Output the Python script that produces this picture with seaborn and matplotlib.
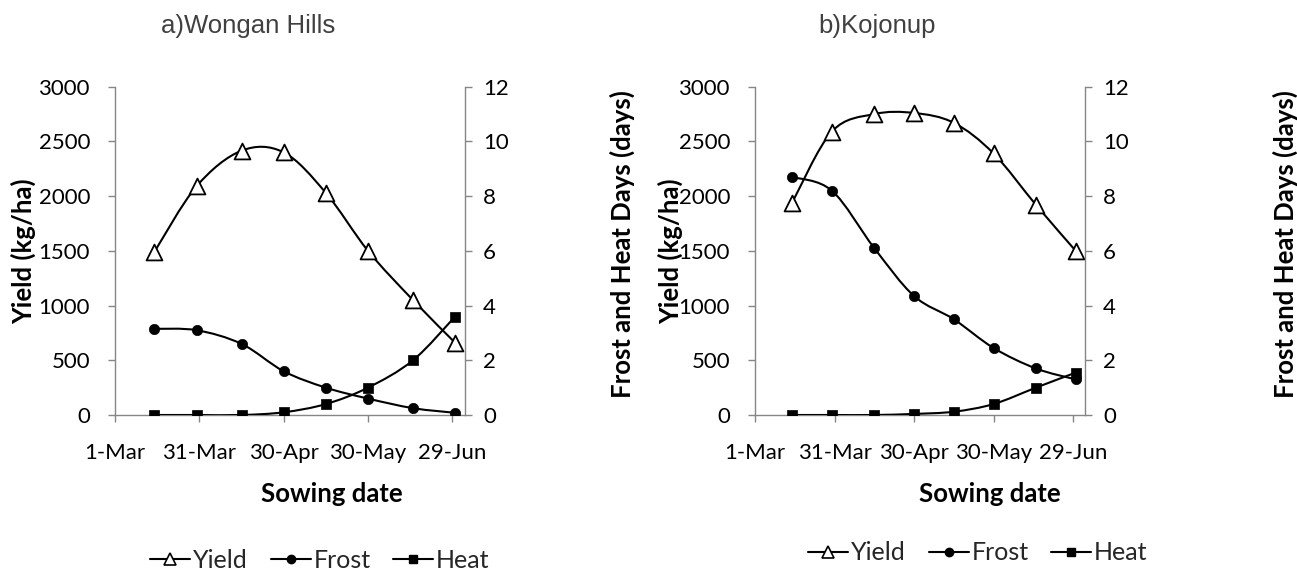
import numpy as np
import pandas as pd
import matplotlib
matplotlib.use("Agg")
import matplotlib.pyplot as plt
import matplotlib.dates as mdates
from matplotlib.path import Path
from matplotlib.patches import PathPatch
from matplotlib.lines import Line2D
import seaborn as sns

# ---------------- data ----------------
sowing_dates = ["2013-03-15", "2013-03-30", "2013-04-15", "2013-04-30",
                "2013-05-15", "2013-05-30", "2013-06-15", "2013-06-30"]
wongan_yield = [1490, 2090, 2415, 2400, 2030, 1500, 1050, 660]
wongan_frost = [3.15, 3.1, 2.6, 1.6, 1.0, 0.6, 0.25, 0.08]
wongan_heat = [0, 0, 0, 0.1, 0.4, 1.0, 2.0, 3.6]
kojonup_yield = [1940, 2590, 2750, 2760, 2670, 2390, 1920, 1500]
kojonup_frost = [8.7, 8.2, 6.1, 4.35, 3.5, 2.45, 1.7, 1.3]
kojonup_heat = [0, 0, 0, 0.04, 0.12, 0.4, 1.0, 1.55]
tick_dates = ["2013-03-01", "2013-03-31", "2013-04-30", "2013-05-30", "2013-06-29"]
tick_labels = ["1-Mar", "31-Mar", "30-Apr", "30-May", "29-Jun"]
yield_ticks = [0, 500, 1000, 1500, 2000, 2500, 3000]
days_ticks = [0, 2, 4, 6, 8, 10, 12]
titles = ["a)Wongan Hills", "b)Kojonup"]
series_names = ["Yield", "Frost", "Heat"]

sns.set_theme(style="white")
plt.rcParams["font.family"] = ["Lato", "DejaVu Sans"]

W, H = 1297, 577
fig = plt.figure(figsize=(W / 100, H / 100), dpi=100)
GRAY = "#868686"
TICK_FS = 16
LAB_FS = 18.5
LEG_FS = 18
TITLE_FS = 18.5


def smooth_path(xs, ys):
    pts = np.column_stack([xs, ys]).astype(float)
    n = len(pts)
    verts = [pts[0]]
    codes = [Path.MOVETO]
    for i in range(n - 1):
        p0 = pts[i - 1] if i > 0 else pts[i]
        p1 = pts[i]
        p2 = pts[i + 1]
        p3 = pts[i + 2] if i + 2 < n else pts[i + 1]
        c1 = p1 + (p2 - p0) / 6.0
        c2 = p2 - (p3 - p1) / 6.0
        verts += [c1, c2, p2]
        codes += [Path.CURVE4] * 3
    return Path(verts, codes)


def panel(rect, yld, frost, heat, title, title_x, ylab_x, rlab_x, xlab_x, leg_x, leg_y):
    ax = fig.add_axes(rect)
    ax2 = ax.twinx()
    dates = pd.to_datetime(sowing_dates)
    xnum = mdates.date2num(dates)

    df = pd.DataFrame({"date": dates, "Yield": yld, "Frost": frost, "Heat": heat})

    # smooth lines (Excel-style smoothed line through the points)
    ax.add_patch(PathPatch(smooth_path(xnum, yld), fill=False, edgecolor="black", lw=1.5, zorder=2))
    ax2.add_patch(PathPatch(smooth_path(xnum, frost), fill=False, edgecolor="black", lw=1.5, zorder=2))
    ax2.add_patch(PathPatch(smooth_path(xnum, heat), fill=False, edgecolor="black", lw=1.5, zorder=2))

    sns.scatterplot(data=df, x="date", y="Yield", ax=ax, marker="^", s=130,
                    facecolor="white", edgecolor="black", linewidth=1.3, zorder=3, legend=False)
    sns.scatterplot(data=df, x="date", y="Frost", ax=ax2, marker="o", s=55,
                    color="black", edgecolor="black", linewidth=0.5, zorder=3, legend=False)
    sns.scatterplot(data=df, x="date", y="Heat", ax=ax2, marker="s", s=55,
                    color="black", edgecolor="black", linewidth=0.5, zorder=3, legend=False)

    xmin = mdates.date2num(pd.Timestamp("2013-03-01"))
    xmax = mdates.date2num(pd.Timestamp("2013-07-03 12:00"))
    for a in (ax, ax2):
        a.set_xlim(xmin, xmax)
        a.set_xlabel("")
        a.set_ylabel("")
        a.grid(False)
        a.set_facecolor("none")
    ax.set_ylim(0, 3000)
    ax2.set_ylim(0, 12)
    ax.set_yticks(yield_ticks)
    ax.set_yticklabels([str(v) for v in yield_ticks])
    ax2.set_yticks(days_ticks)
    ax2.set_yticklabels([str(v) for v in days_ticks])
    ax.set_xticks(mdates.date2num(pd.to_datetime(tick_dates)))
    ax.set_xticklabels(tick_labels)

    for a in (ax, ax2):
        for s in a.spines.values():
            s.set_visible(False)
    ax.spines["left"].set_visible(True)
    ax.spines["bottom"].set_visible(True)
    ax2.spines["right"].set_visible(True)
    for s in (ax.spines["left"], ax.spines["bottom"], ax2.spines["right"]):
        s.set_color(GRAY)
        s.set_linewidth(1.0)

    ax.tick_params(axis="y", direction="out", length=5, width=1, color=GRAY,
                   labelsize=TICK_FS, labelcolor="black", pad=13, left=True)
    ax.tick_params(axis="x", direction="out", length=5, width=1, color=GRAY,
                   labelsize=TICK_FS, labelcolor="black", pad=15, bottom=True)
    ax2.tick_params(axis="y", direction="out", length=5, width=1, color=GRAY,
                    labelsize=TICK_FS, labelcolor="black", pad=8, right=True)

    # texts
    fig.text(title_x / W, 1 - 26 / H, title, ha="center", va="center",
             fontsize=TITLE_FS, color="#404040", family=["Liberation Sans", "DejaVu Sans"])
    fig.text(ylab_x / W, 1 - 251 / H, "Yield (kg/ha)", ha="center", va="center",
             rotation=90, fontsize=LAB_FS, fontweight="bold", color="black")
    fig.text(rlab_x / W, 1 - 244 / H, "Frost and Heat Days (days)", ha="center", va="center",
             rotation=90, fontsize=LAB_FS, fontweight="bold", color="black")
    fig.text(xlab_x / W, 1 - 494 / H, "Sowing date", ha="center", va="center",
             fontsize=LAB_FS, fontweight="bold", color="black")

    handles = [
        Line2D([], [], color="black", lw=1.5, marker="^", ms=9, mfc="white", mec="black", mew=1.2),
        Line2D([], [], color="black", lw=1.5, marker="o", ms=6, mfc="black", mec="black"),
        Line2D([], [], color="black", lw=1.5, marker="s", ms=6, mfc="black", mec="black"),
    ]
    fig.legend(handles, series_names, loc="center", bbox_to_anchor=(leg_x / W, 1 - leg_y / H),
               ncol=3, frameon=False, fontsize=LEG_FS, handlelength=1.6, handletextpad=0.12,
               columnspacing=0.9, borderaxespad=0, borderpad=0)
    return ax, ax2


panel([115 / W, 1 - 415 / H, 350 / W, 328.3 / H], wongan_yield, wongan_frost, wongan_heat,
      titles[0], 248, 23, 622, 332, 320, 560)
panel([755 / W, 1 - 415 / H, 330 / W, 328.3 / H], kojonup_yield, kojonup_frost, kojonup_heat,
      titles[1], 877, 670, 1285, 990, 978, 553)

fig.savefig("out.png", dpi=100, facecolor="white")
